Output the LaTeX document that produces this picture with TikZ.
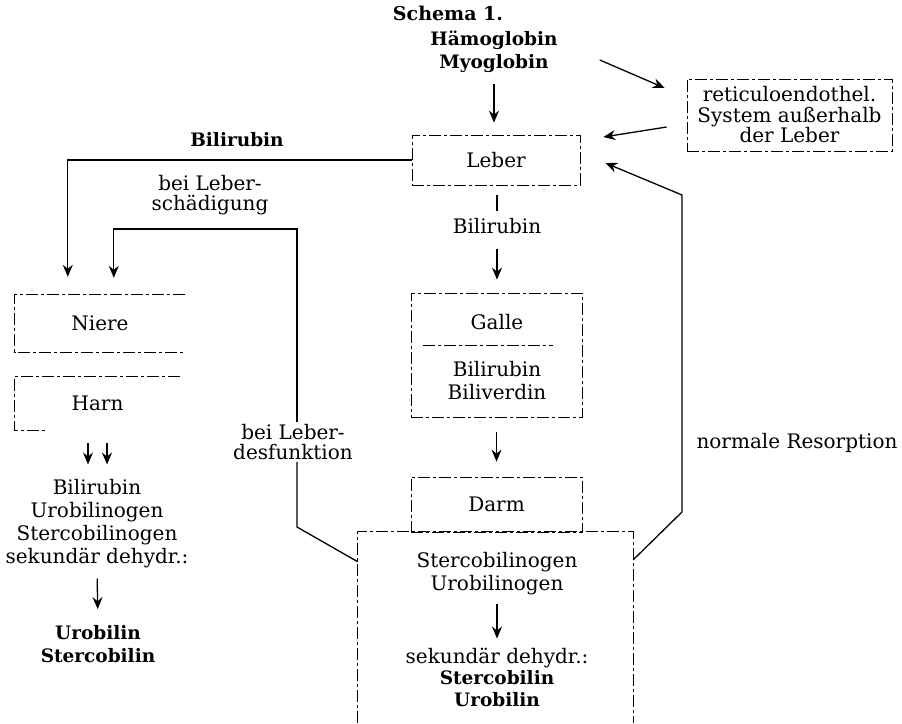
\documentclass[tikz,border=0pt]{standalone}
\usepackage{fontspec}
\setmainfont{DejaVu Serif}
\usetikzlibrary{arrows.meta,calc}
\newcommand\boldsm[1]{{\fontsize{18.5}{21}\selectfont\bfseries #1}}
\begin{document}
\begin{tikzpicture}[x=1pt,y=-1pt,
  txt/.style={inner sep=2pt,align=center,font=\fontsize{20}{23}\selectfont},
  btxt/.style={txt,font=\fontsize{18.5}{23}\selectfont\bfseries},
  dsh/.style={line width=0.7pt,dash pattern=on 12pt off 3pt on 3pt off 3pt},
  ln/.style={line width=1.3pt},
  arr/.style={ln,-{Stealth[length=12pt,width=10pt,inset=4pt]}},
  boxn/.style={txt,dsh,draw,inner sep=0pt}
]
\useasboundingbox (0,0) rectangle (902,723);
% title and top
\node[btxt,font=\fontsize{19}{22}\selectfont\bfseries] (title) at (448,13) {Schema 1.};
\node[btxt] (haem) at (494,52) {Hämoglobin\\Myoglobin};
\node[boxn,minimum width=168pt,minimum height=50pt] (leber) at (496,160) {Leber};
\node[boxn,minimum width=205pt,minimum height=72pt,font=\fontsize{20}{20.5}\selectfont] (res) at (789.5,115) {reticuloendothel.\\System außerhalb\\der Leber};
% left labels
\node[btxt] (bil1) at (237,140) {Bilirubin};
\node[txt,font=\fontsize{20}{20}\selectfont] (schaed) at (210,195) {bei Leber-\\schädigung};
\node[txt,font=\fontsize{20}{20}\selectfont] (desf) at (293,442) {bei Leber-\\desfunktion};
% left column
\node[txt,minimum width=170pt,minimum height=57pt] (niere) at (100,323.5) {Niere};
\draw[dsh] (niere.north east) -- (niere.north west) -- (niere.south west) -- (niere.south east);
\node[txt,minimum width=165pt,minimum height=53pt] (harn) at (97.5,403.5) {Harn};
\draw[dsh] (harn.north east) -- (harn.north west) -- (harn.south west) -- ([shift={(30,0)}]harn.south west);
\node[txt] (ltext) at (97,524) {Bilirubin\\Urobilinogen\\Stercobilinogen\\sekundär dehydr.:};
\node[btxt] (lbil) at (98,644) {Urobilin\\Stercobilin};
\draw[arr,shorten <=13pt,shorten >=13pt] (harn.south -| 88,0) -- (ltext.north -| 88,0);
\draw[arr,shorten <=13pt,shorten >=13pt] (harn.south -| 107,0) -- (ltext.north -| 107,0);
\draw[arr,shorten <=8pt,shorten >=14pt] (ltext.south) -- (lbil.north);
% central column
\node[txt] (bil2) at (497,226) {Bilirubin};
\node[boxn,minimum width=171pt,minimum height=124pt] (galle) at (496.5,355) {};
\draw[dsh] ([shift={(12,-10)}]galle.west) -- ([shift={(-29,-10)}]galle.east);
\node[txt] (gname) at (497,322) {Galle};
\node[txt] (gcont) at (497,381) {Bilirubin\\Biliverdin};
\node[boxn,minimum width=171pt,minimum height=55pt] (darm) at (496.5,504.5) {Darm};
\node[inner sep=0pt,minimum width=275pt,minimum height=191pt] (low) at (495.5,627.5) {};
\draw[dsh] (low.south west) -- (low.north west) -- (low.north east) -- (low.south east);
\node[txt] (st1) at (497,574) {Stercobilinogen\\Urobilinogen};
\node[txt,font=\fontsize{20}{21.5}\selectfont] (st2) at (497,677) {sekundär dehydr.:\\\boldsm{Stercobilin}\\\boldsm{Urobilin}};
\draw[arr,shorten <=6pt,shorten >=7pt] (st1.south) -- (st2.north);
\draw[ln,shorten <=10pt,shorten >=5pt] (leber.south -| bil2) -- (bil2.north);
\draw[arr,shorten <=13pt,shorten >=13pt] (bil2.south) -- (galle.north -| bil2);
\draw[arr,shorten <=15pt,shorten >=15pt] (galle.south) -- (darm.north);
% right side
\node[txt] (norm) at (797,443) {normale Resorption};
% connectors
\draw[arr,shorten <=9pt,shorten >=12pt] (haem.south) -- (haem.south |- leber.north);
\draw[arr] ([shift={(40,8)}]haem.east) -- ([shift={(-22,-27)}]res.west);
\draw[arr] ([shift={(-20,12)}]res.west) -- ([shift={(23,-23)}]leber.east);
\draw[arr] (leber.west) -| ([shift={(53,-18)}]niere.north west);
\coordinate (k1) at (297,527);
\coordinate (k2) at (297,229);
\draw[ln] ([shift={(0,30)}]low.north west) -- (k1) -- (k1 |- desf.south);
\draw[arr] (k1 |- desf.north) -- (k2) -| ([shift={(99,-17)}]niere.north west);
\coordinate (c1) at (682,512);
\coordinate (c2) at (682,195);
\draw[arr] ([shift={(0,28)}]low.north east) -- (c1) -- (c2) -- ([shift={(25,3)}]leber.east);
\end{tikzpicture}
\end{document}
